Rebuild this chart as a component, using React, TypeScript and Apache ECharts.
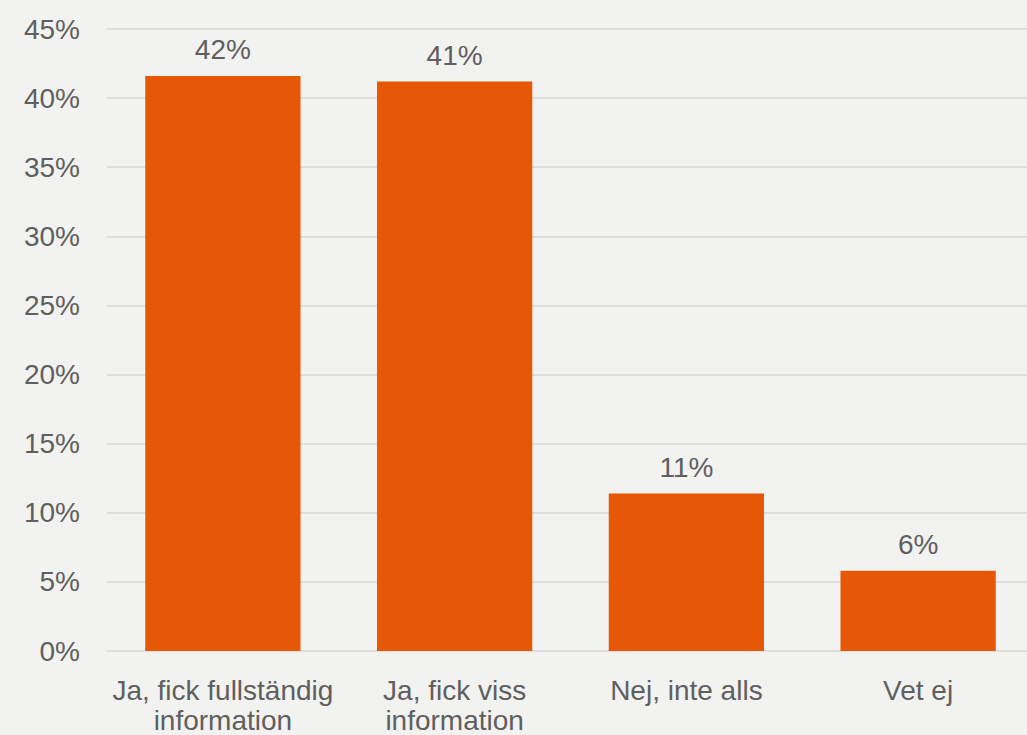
import React, { useEffect, useRef } from "react";
import * as echarts from "echarts";

const categories = ["Ja, fick fullständig\ninformation", "Ja, fick viss\ninformation", "Nej, inte alls", "Vet ej"];
const values = [41.6, 41.2, 11.4, 5.8];
const yTicks = { min: 0, max: 45, interval: 5 };

export default function App() {
  const ref = useRef<HTMLDivElement>(null);
  useEffect(() => {
    document.body.style.margin = "0";
    const chart = echarts.init(ref.current!, null, { renderer: "svg" });
    const font = "Liberation Sans";
    const textColor = "#5f5f5f";
    chart.setOption({
      animation: false,
      backgroundColor: "#f2f2f0",
      grid: { left: 107, right: 0, top: 29, bottom: 84, containLabel: false },
      xAxis: {
        type: "category",
        data: categories,
        axisLine: { show: false },
        axisTick: { show: false },
        axisLabel: {
          color: textColor,
          fontSize: 28,
          fontFamily: font,
          lineHeight: 30,
          margin: 24,
          interval: 0,
          hideOverlap: false,
        },
      },
      yAxis: {
        type: "value",
        min: yTicks.min,
        max: yTicks.max,
        interval: yTicks.interval,
        axisLine: { show: false },
        axisTick: { show: false },
        splitLine: { lineStyle: { color: "#d9d9d9", width: 1.5 } },
        axisLabel: { color: textColor, fontSize: 28, fontFamily: font, margin: 27, formatter: "{value}%" },
      },
      series: [
        {
          type: "bar",
          data: values,
          barCategoryGap: "33%",
          itemStyle: { color: "#e65805" },
          label: {
            show: true,
            position: "top",
            distance: 12,
            color: textColor,
            fontSize: 28,
            fontFamily: font,
            formatter: (p: any) => Math.round(p.value) + "%",
          },
        },
      ],
    });
    return () => chart.dispose();
  }, []);
  return (
    <div style={{ width: 1027, height: 735, overflow: "hidden", position: "relative" }}>
      <div ref={ref} style={{ width: 1034, height: 735 }} />
    </div>
  );
}
